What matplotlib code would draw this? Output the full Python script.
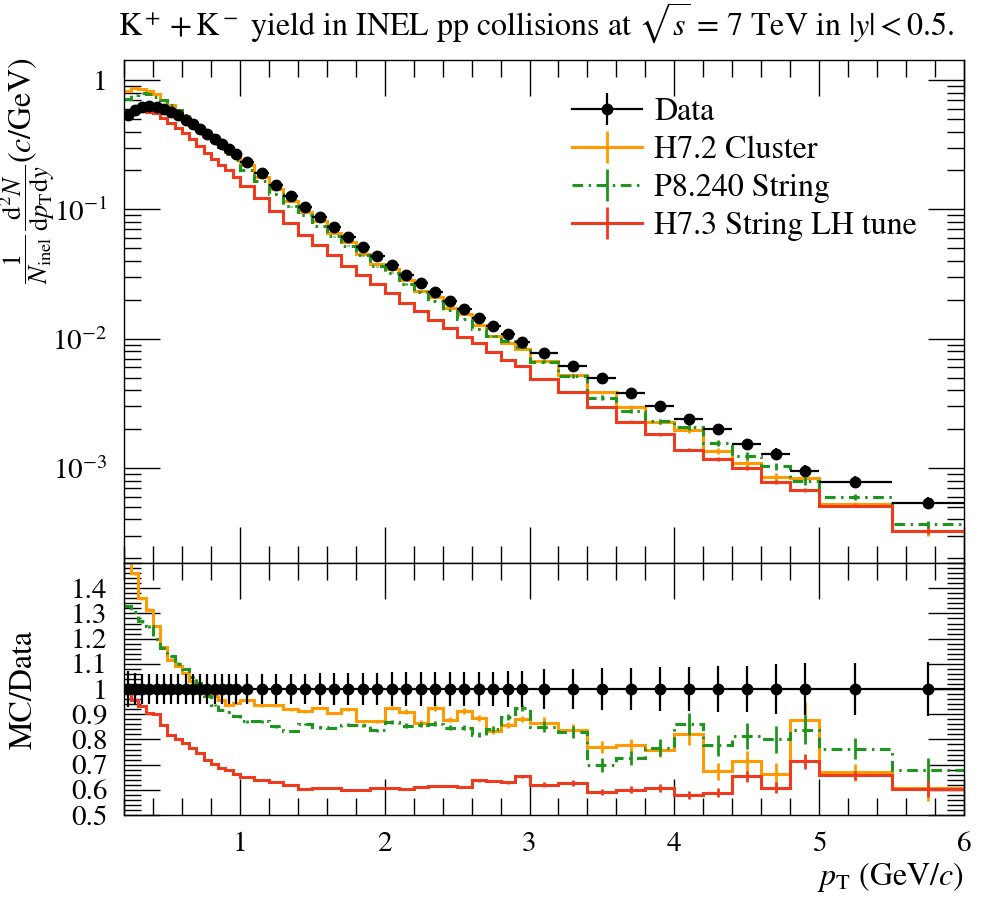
import numpy as np
import matplotlib
matplotlib.use('Agg')
import matplotlib.pyplot as plt
from matplotlib.ticker import FixedLocator, MultipleLocator, FuncFormatter, LogLocator, NullFormatter

plt.rcParams['font.family'] = ['STIXGeneral', 'DejaVu Serif']
plt.rcParams['mathtext.fontset'] = 'stix'
plt.rcParams['font.size'] = 21

# ---------------- data ----------------
bin_edges = [0.20, 0.25, 0.30, 0.35, 0.40, 0.45, 0.50, 0.55, 0.60, 0.65, 0.70, 0.75, 0.80,
             0.85, 0.90, 0.95, 1.00, 1.10, 1.20, 1.30, 1.40, 1.50, 1.60, 1.70, 1.80, 1.90,
             2.00, 2.10, 2.20, 2.30, 2.40, 2.50, 2.60, 2.70, 2.80, 2.90, 3.00, 3.20, 3.40,
             3.60, 3.80, 4.00, 4.20, 4.40, 4.60, 4.80, 5.00, 5.50, 6.00]

data_yield = [0.535, 0.59, 0.625, 0.63, 0.62, 0.60, 0.57, 0.535, 0.495, 0.455, 0.415, 0.38,
              0.35, 0.32, 0.295, 0.27, 0.232, 0.19, 0.155, 0.127, 0.105, 0.0875, 0.073,
              0.061, 0.0515, 0.0435, 0.0372, 0.031, 0.0268, 0.0228, 0.0196, 0.0169, 0.0145,
              0.0125, 0.0108, 0.0094, 0.0078, 0.0062, 0.0050, 0.0038, 0.0030, 0.0024,
              0.0020, 0.00153, 0.00129, 0.00095, 0.00078, 0.00054]

data_relerr = [0.070, 0.065, 0.060, 0.060, 0.058, 0.058, 0.058, 0.058, 0.058, 0.058, 0.058,
               0.058, 0.058, 0.058, 0.058, 0.058, 0.060, 0.060, 0.060, 0.060, 0.060, 0.062,
               0.062, 0.063, 0.064, 0.065, 0.066, 0.066, 0.066, 0.067, 0.067, 0.068, 0.068,
               0.069, 0.070, 0.070, 0.079, 0.079, 0.084, 0.084, 0.086, 0.086, 0.091, 0.093,
               0.099, 0.102, 0.103, 0.106]

# MC / Data ratios
h72_ratio = [1.54, 1.46, 1.36, 1.315, 1.25, 1.167, 1.117, 1.093, 1.064, 1.031, 1.007, 0.985,
             0.971, 0.956, 0.938, 0.945, 0.956, 0.935, 0.935, 0.919, 0.912, 0.925, 0.905,
             0.919, 0.872, 0.872, 0.925, 0.910, 0.866, 0.925, 0.879, 0.912, 0.886, 0.833,
             0.859, 0.882, 0.866, 0.839, 0.771, 0.776, 0.757, 0.820, 0.674, 0.713, 0.663,
             0.879, 0.670, 0.608]

p8_ratio = [1.329, 1.306, 1.269, 1.249, 1.199, 1.163, 1.130, 1.101, 1.080, 1.048, 1.022, 0.971,
            0.938, 0.916, 0.908, 0.892, 0.872, 0.872, 0.852, 0.833, 0.862, 0.848, 0.846,
            0.859, 0.856, 0.837, 0.870, 0.855, 0.859, 0.863, 0.846, 0.846, 0.819, 0.842,
            0.890, 0.925, 0.850, 0.829, 0.700, 0.727, 0.767, 0.861, 0.776, 0.813, 0.800,
            0.839, 0.763, 0.678]

h73_ratio = [1.00, 0.958, 0.932, 0.905, 0.899, 0.856, 0.819, 0.800, 0.784, 0.767, 0.747, 0.720,
             0.704, 0.687, 0.678, 0.661, 0.652, 0.641, 0.630, 0.621, 0.604, 0.608, 0.608,
             0.599, 0.601, 0.609, 0.609, 0.604, 0.610, 0.616, 0.616, 0.612, 0.638, 0.635,
             0.630, 0.654, 0.621, 0.628, 0.590, 0.601, 0.608, 0.578, 0.588, 0.654, 0.608,
             0.713, 0.657, 0.604]

# MC statistical relative uncertainties
h72_relerr = [0.004, 0.004, 0.004, 0.004, 0.004, 0.004, 0.004, 0.004, 0.004, 0.004, 0.004,
              0.004, 0.004, 0.004, 0.004, 0.004, 0.006, 0.006, 0.006, 0.006, 0.006, 0.006,
              0.006, 0.006, 0.007, 0.007, 0.010, 0.010, 0.011, 0.011, 0.012, 0.012, 0.013,
              0.013, 0.014, 0.014, 0.025, 0.028, 0.030, 0.032, 0.035, 0.050, 0.050, 0.060,
              0.065, 0.080, 0.050, 0.087]
p8_relerr = [0.004, 0.004, 0.004, 0.004, 0.004, 0.004, 0.004, 0.004, 0.004, 0.004, 0.004,
             0.004, 0.004, 0.004, 0.004, 0.004, 0.006, 0.006, 0.006, 0.006, 0.006, 0.006,
             0.006, 0.006, 0.007, 0.007, 0.010, 0.010, 0.011, 0.011, 0.012, 0.012, 0.013,
             0.013, 0.014, 0.014, 0.025, 0.030, 0.040, 0.040, 0.045, 0.050, 0.055, 0.065,
             0.065, 0.070, 0.055, 0.070]
h73_relerr = [0.003, 0.003, 0.003, 0.003, 0.003, 0.003, 0.003, 0.003, 0.003, 0.003, 0.003,
              0.003, 0.003, 0.003, 0.003, 0.003, 0.004, 0.004, 0.004, 0.004, 0.004, 0.004,
              0.004, 0.005, 0.005, 0.005, 0.006, 0.006, 0.007, 0.007, 0.008, 0.008, 0.009,
              0.009, 0.010, 0.010, 0.015, 0.018, 0.020, 0.022, 0.024, 0.028, 0.030, 0.033,
              0.035, 0.040, 0.025, 0.053]

mc_labels = ['H7.2 Cluster', 'P8.240 String', 'H7.3 String LH tune']
mc_ratios = [h72_ratio, p8_ratio, h73_ratio]
mc_relerrs = [h72_relerr, p8_relerr, h73_relerr]
mc_colors = ['#FF9A00', '#1E961E', '#EE3A1D']
mc_styles = ['-', (0, (3.5, 1.8, 0.8, 1.8)), '-']

title = (r'K$^+ + $K$^-$ yield in INEL pp collisions at $\sqrt{s}$ = 7 TeV in $|y| < 0.5$.')
ylabel_main_frac = (r'$\dfrac{1}{N_\mathrm{inel}}\,'
                    r'\dfrac{\mathrm{d}^2N}{\mathrm{d}p_\mathrm{T}\mathrm{d}y}$')
ylabel_main_unit = r'$(c/\mathrm{GeV})$'
ylabel_ratio = 'MC/Data'
xlabel = r'$p_\mathrm{T}$ (GeV/$c$)'

# ---------------- plotting ----------------
edges = np.array(bin_edges)
centers = 0.5 * (edges[:-1] + edges[1:])
halfw = 0.5 * (edges[1:] - edges[:-1])
data = np.array(data_yield)
drel = np.array(data_relerr)

fig = plt.figure(figsize=(9.96, 9.0), dpi=100)
ax1 = fig.add_axes([0.1245, 0.3744, 0.8434, 0.5589])
ax2 = fig.add_axes([0.1245, 0.0944, 0.8434, 0.2800], sharex=ax1)

lw_mc = 2.2
for lab, rat, rel, col, ls in zip(mc_labels, mc_ratios, mc_relerrs, mc_colors, mc_styles):
    rat = np.array(rat)
    rel = np.array(rel)
    vals = data * rat
    ax1.stairs(vals, edges, baseline=None, color=col, lw=lw_mc, ls=ls, zorder=2)
    ax1.errorbar(centers, vals, yerr=vals * rel, fmt='none', ecolor=col, elinewidth=2.0,
                 capsize=0, zorder=2)
    ax2.stairs(rat, edges, baseline=None, color=col, lw=lw_mc, ls=ls, zorder=2)
    ax2.errorbar(centers, rat, yerr=rat * rel, fmt='none', ecolor=col, elinewidth=2.0,
                 capsize=0, zorder=2)

ax1.errorbar(centers, data, xerr=halfw, yerr=data * drel, fmt='o', color='black',
             ms=7.5, elinewidth=1.6, capsize=0, zorder=5)
ax2.errorbar(centers, np.ones_like(data), xerr=halfw, yerr=drel, fmt='o', color='black',
             ms=7.5, elinewidth=1.6, capsize=0, zorder=5)

# legend proxies
handles = []
h = ax1.errorbar([np.nan], [np.nan], yerr=[np.nan], fmt='o-', color='black', ms=7.5,
                 lw=1.6, elinewidth=1.6, capsize=0)
handles.append(h)
for col, ls in zip(mc_colors, mc_styles):
    h = ax1.errorbar([np.nan], [np.nan], yerr=[np.nan], color=col, ls=ls, lw=lw_mc,
                     elinewidth=2.0, capsize=0)
    handles.append(h)
leg = ax1.legend(handles, ['Data'] + mc_labels, loc='upper left',
                 bbox_to_anchor=(0.518, 0.950), frameon=False, handlelength=2.2,
                 handletextpad=0.37, labelspacing=0.27, borderaxespad=0, fontsize=23)

# axes styling
ax1.set_yscale('log')
ax1.set_xlim(0.2, 6.0)
ax1.set_ylim(1.84e-4, 1.43)
ax2.set_ylim(0.5, 1.5)

for ax in (ax1, ax2):
    ax.tick_params(which='major', direction='in', length=26, width=1.0, top=True, right=True,
                   pad=12)
    ax.tick_params(which='minor', direction='in', length=12, width=1.0, top=True, right=True)
    for sp in ax.spines.values():
        sp.set_linewidth(1.0)
    ax.xaxis.set_major_locator(FixedLocator([1, 2, 3, 4, 5, 6]))
    ax.xaxis.set_minor_locator(MultipleLocator(0.2))

ax1.yaxis.set_major_locator(LogLocator(base=10, numticks=10))
ax1.yaxis.set_minor_locator(LogLocator(base=10, subs=np.arange(2, 10), numticks=20))
ax1.yaxis.set_minor_formatter(NullFormatter())
ax1.yaxis.set_major_formatter(FuncFormatter(
    lambda v, p: '1' if abs(v - 1) < 1e-9 else r'$10^{%d}$' % round(np.log10(v))))
ax1.tick_params(axis='x', labelbottom=False)

ax2.yaxis.set_major_locator(FixedLocator([0.5, 0.6, 0.7, 0.8, 0.9, 1.0, 1.1, 1.2, 1.3, 1.4]))
ax2.yaxis.set_minor_locator(MultipleLocator(0.02))
ax2.yaxis.set_major_formatter(FuncFormatter(lambda v, p: '%g' % round(v, 2)))
ax2.xaxis.set_major_formatter(FuncFormatter(lambda v, p: '%d' % round(v)))

# main y label: units at the top, fraction below it (rotated)
fig.text(23 / 996, 1 - 58 / 900, ylabel_main_unit, rotation=90, ha='center', va='top',
         fontsize=23)
fig.text(28 / 996, 1 - 165 / 900, ylabel_main_frac, rotation=90, ha='center', va='top',
         fontsize=19)

ax2.set_ylabel(ylabel_ratio, fontsize=23)
ax2.yaxis.set_label_coords(-0.102, 0.5)
ax2.set_xlabel(xlabel, loc='right', fontsize=23)
ax2.xaxis.set_label_coords(1.0, -0.18)

fig.text(954 / 996, 1 - 36 / 900, title, ha='right', va='baseline', fontsize=23)

fig.savefig('out.png', dpi=100)
